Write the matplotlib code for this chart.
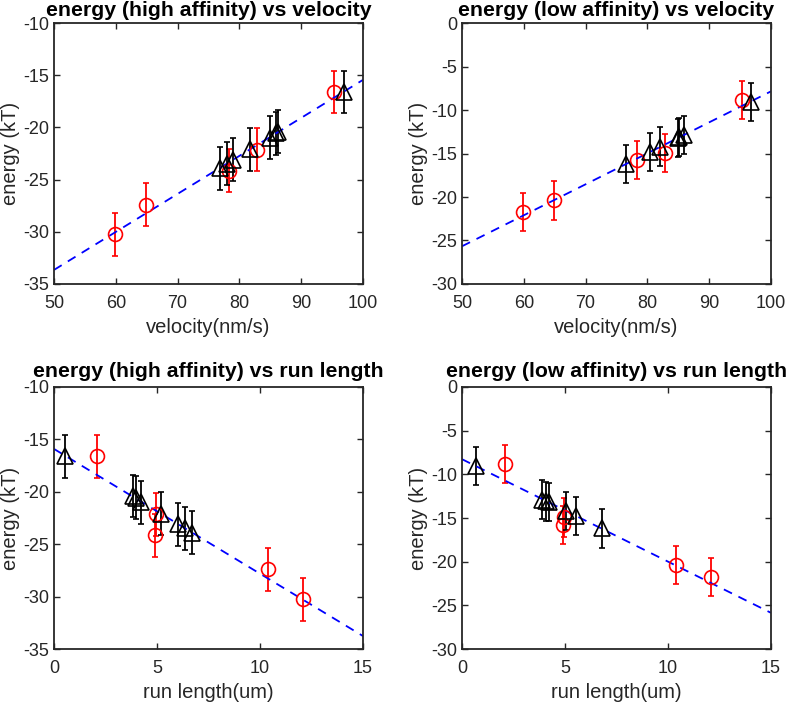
import numpy as np
import matplotlib
matplotlib.use("Agg")
import matplotlib.pyplot as plt

plt.rcParams['font.family'] = ['Liberation Sans', 'DejaVu Sans']
plt.rcParams['axes.unicode_minus'] = False

# values
# red circles: shared velocity / run length, energy for high and low affinity
red_velocity = [59.86, 64.87, 78.29, 82.87, 95.26]
red_runlength = [12.1, 10.37, 4.9, 4.97, 2.11]
red_high = [-30.25, -27.41, -24.13, -22.15, -16.6]
red_low = [-21.74, -20.4, -15.77, -14.93, -8.84]

# black triangles, high affinity
blk_high_velocity = [76.8, 78.07, 78.9, 81.7, 84.9, 85.9, 86.2, 96.9]
blk_high_runlength = [6.71, 6.34, 6.02, 5.18, 4.24, 3.97, 3.84, 0.53]
blk_high = [-23.9, -23.46, -23.1, -22.1, -21.0, -20.55, -20.4, -16.6]

# black triangles, low affinity
blk_low_velocity = [76.5, 80.5, 82.1, 84.9, 85.2, 85.9, 96.7]
blk_low_runlength = [6.8, 5.55, 5.07, 4.24, 4.1, 3.88, 0.7]
blk_low = [-16.2, -14.8, -14.2, -13.2, -13.1, -12.9, -9.07]

err_high = 2.05
err_low = 2.2

dark = '#262626'

fig = plt.figure(figsize=(7.87, 7.04), dpi=100)

panels = [
    # (position, red x, red y, black x, black y, err, xlim, ylim, xticks, yticks, title, xlabel, title pad)
    ([0.0686, 0.5966, 0.3926, 0.3707], red_velocity, red_high, blk_high_velocity, blk_high, err_high,
     (50, 100), (-35, -10), range(50, 101, 10), range(-35, -9, 5),
     'energy (high affinity) vs velocity', 'velocity(nm/s)', 5),
    ([0.587, 0.5966, 0.3926, 0.3707], red_velocity, red_low, blk_low_velocity, blk_low, err_low,
     (50, 100), (-30, 0), range(50, 101, 10), range(-30, 1, 5),
     'energy (low affinity) vs velocity', 'velocity(nm/s)', 5),
    ([0.0686, 0.0781, 0.3926, 0.3722], red_runlength, red_high, blk_high_runlength, blk_high, err_high,
     (0, 15), (-35, -10), range(0, 16, 5), range(-35, -9, 5),
     'energy (high affinity) vs run length', 'run length(um)', 7),
    ([0.587, 0.0781, 0.3926, 0.3722], red_runlength, red_low, blk_low_runlength, blk_low, err_low,
     (0, 15), (-30, 0), range(0, 16, 5), range(-30, 1, 5),
     'energy (low affinity) vs run length', 'run length(um)', 7),
]

for pos, rx, ry, bx, by, err, xlim, ylim, xt, yt, title, xlabel, tpad in panels:
    ax = fig.add_axes(pos)
    ax.errorbar(rx, ry, yerr=err, fmt='o', color='red', mfc='none', ms=10,
                mew=1.2, elinewidth=1.3, capsize=2, capthick=1.2)
    ax.errorbar(bx, by, yerr=err, fmt='^', color='black', mfc='none', ms=11,
                mew=1.2, elinewidth=1.3, capsize=2, capthick=1.2)

    # linear fit through all points
    allx = np.concatenate([rx, bx])
    ally = np.concatenate([ry, by])
    k, b = np.polyfit(allx, ally, 1)
    xx = np.array(xlim, dtype=float)
    ax.plot(xx, k * xx + b, '--', color='blue', lw=1.3, dashes=(5, 4))

    ax.set_xlim(xlim)
    ax.set_ylim(ylim)
    ax.set_xticks(list(xt))
    ax.set_yticks(list(yt))
    ax.tick_params(direction='in', top=True, right=True, length=4, width=1,
                   colors=dark, labelsize=13, labelcolor=dark)
    ax.tick_params(axis='x', pad=8)
    for s in ax.spines.values():
        s.set_color(dark)
        s.set_linewidth(1.3)
    ax.set_title(title, fontsize=15.3, fontweight='bold', pad=tpad)
    ax.set_xlabel(xlabel, fontsize=14.5, color=dark, labelpad=4)
    ax.set_ylabel('energy (kT)', fontsize=14.5, color=dark, labelpad=2)

plt.savefig('out.png', dpi=100)
